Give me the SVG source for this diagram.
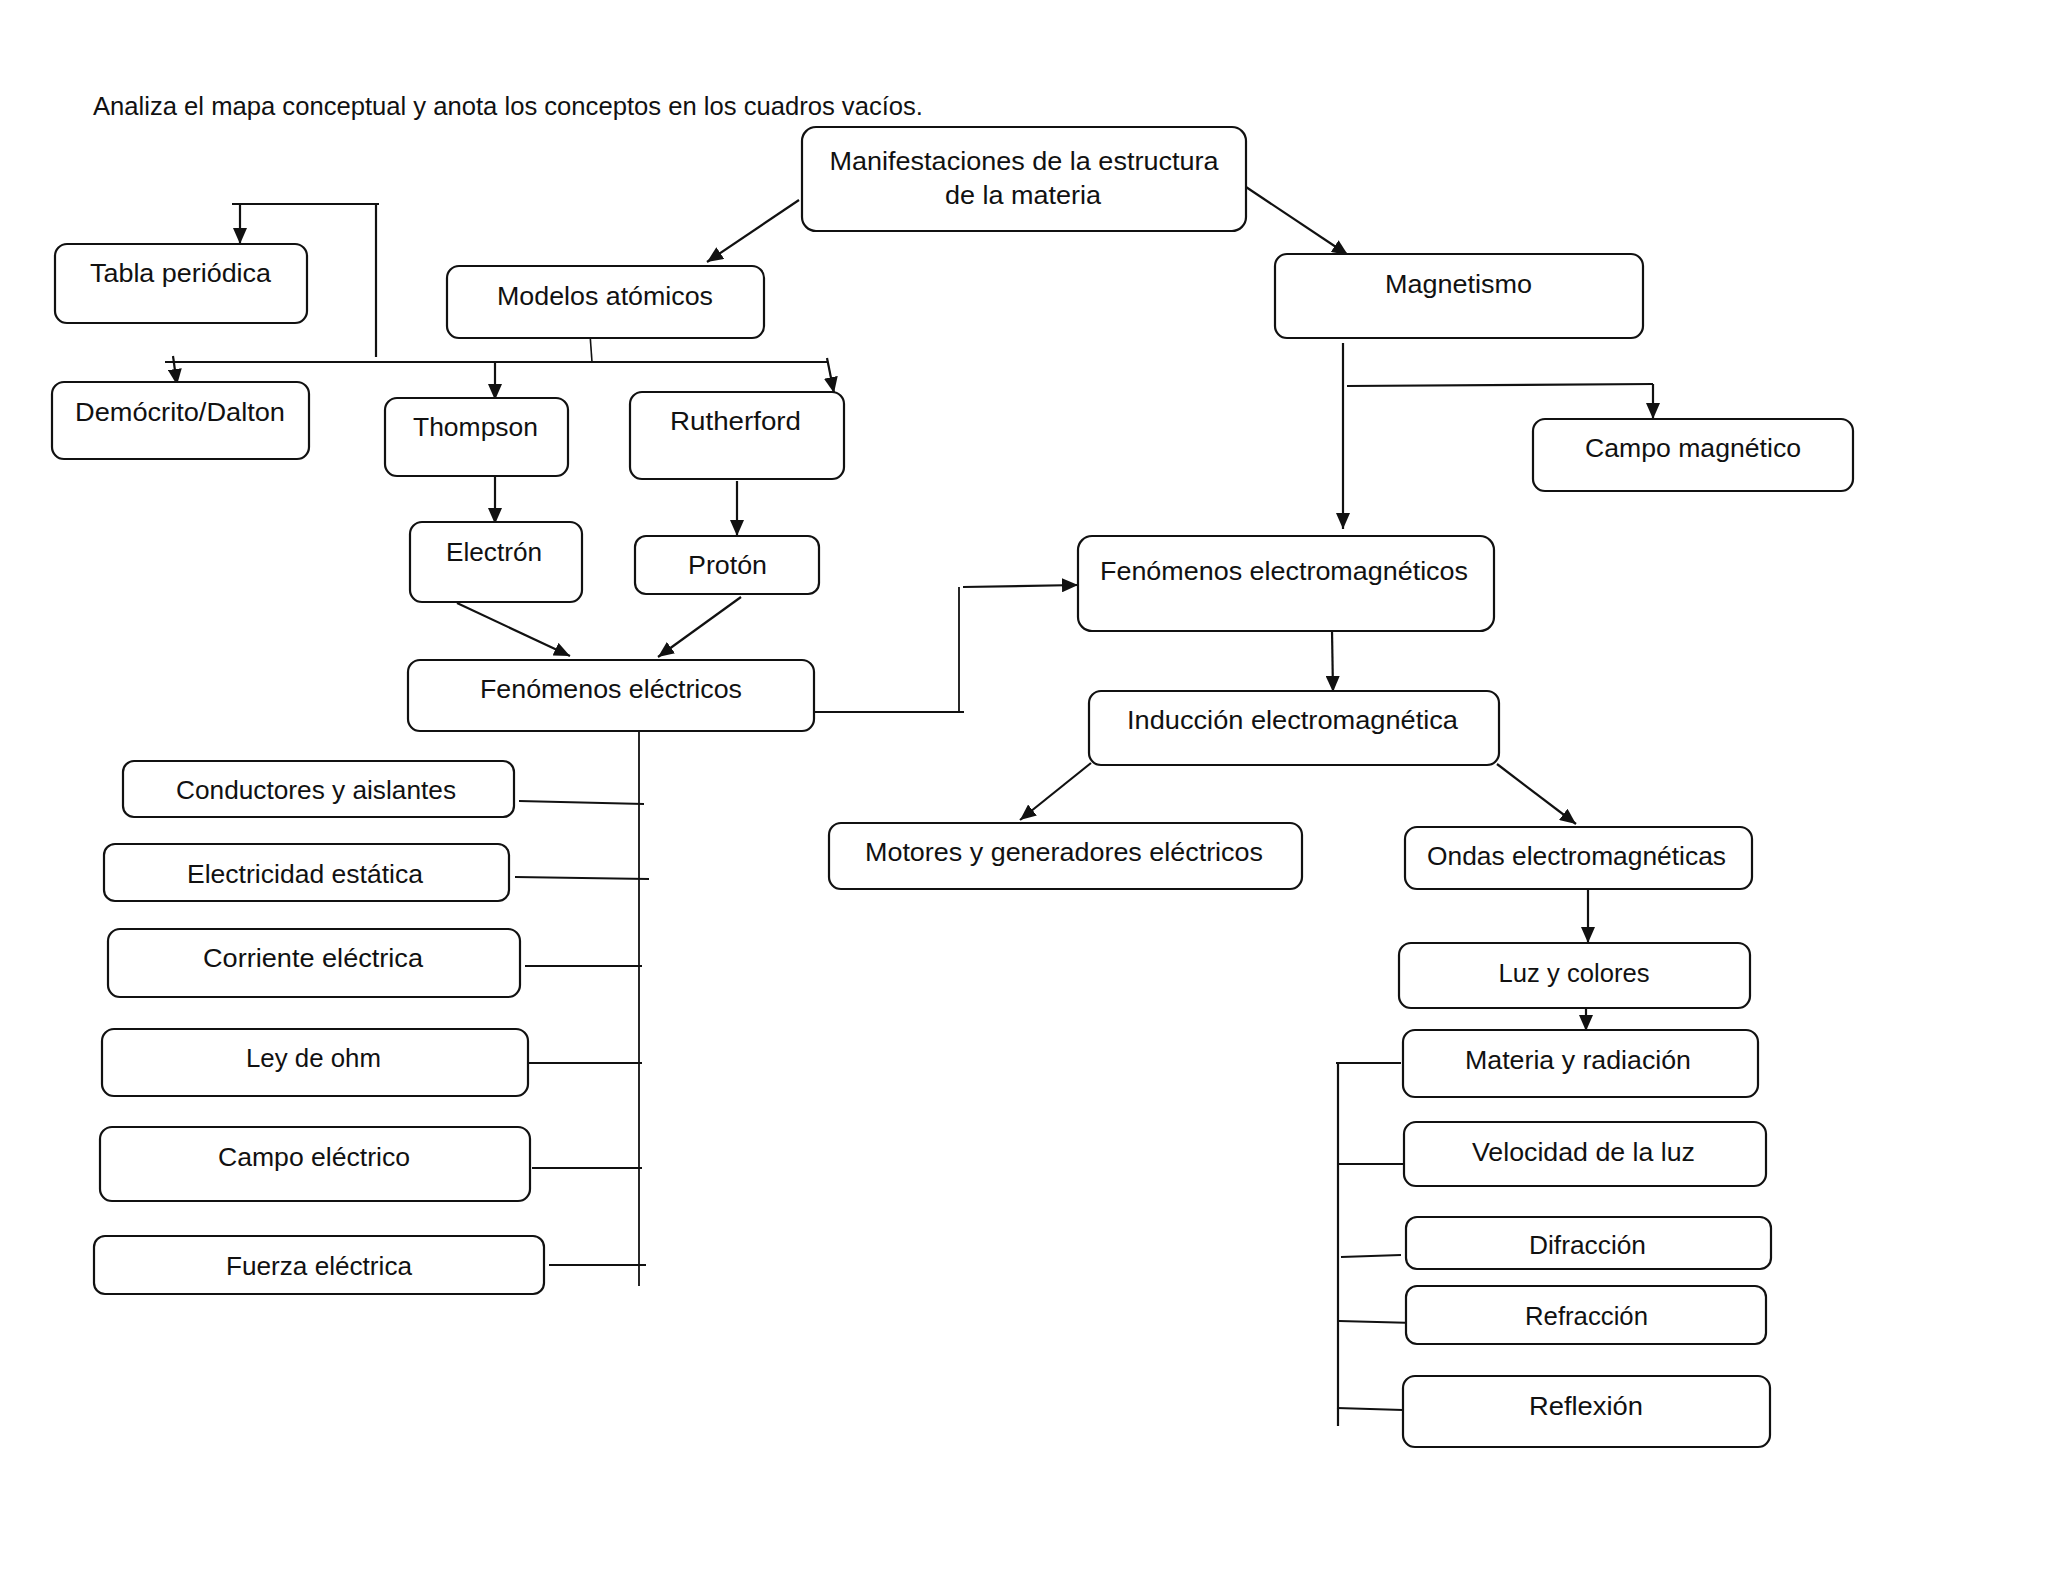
<svg xmlns="http://www.w3.org/2000/svg" width="2048" height="1582" viewBox="0 0 2048 1582">
<style>
.box{fill:#fff;stroke:#111;stroke-width:2.2}
.t{font-family:"Liberation Sans",Arial,sans-serif;font-size:26px;fill:#111;text-anchor:middle}
.title{font-family:"Liberation Sans",Arial,sans-serif;font-size:26px;fill:#111}
.c{fill:none;stroke:#111;stroke-width:2.2}
.a{fill:none;stroke:#111;stroke-width:2.2;marker-end:url(#ah)}
</style>
<defs>
<marker id="ah" viewBox="0 0 16 14" refX="16" refY="7" markerWidth="16" markerHeight="14" markerUnits="userSpaceOnUse" orient="auto">
<path d="M0,0 L16,7 L0,14 z" fill="#111"/>
</marker>
</defs>
<rect width="2048" height="1582" fill="#fff"/>
<text class="title" x="93" y="115" textLength="830" lengthAdjust="spacingAndGlyphs">Analiza el mapa conceptual y anota los conceptos en los cuadros vacíos.</text>

<g id="connectors">
<path class="a" d="M799,200 L707,262"/>
<path class="a" d="M1246,187 L1348,255"/>
<path class="c" d="M232,204 H379"/>
<path class="a" d="M240,204 V244"/>
<path class="c" d="M376,204 V357"/>
<path class="c" d="M165,362 H827"/>
<path class="c" d="M590,334 L592,362" style="stroke-width:1.6"/>
<path class="a" d="M173,356 L177,385"/>
<path class="a" d="M495,362 V400"/>
<path class="a" d="M827,358 L834,393"/>
<path class="a" d="M495,476 V524"/>
<path class="a" d="M737,481 V536"/>
<path class="a" d="M457,603 L570,656"/>
<path class="a" d="M741,597 L658,657"/>
<path class="c" d="M809,712 H964" style="stroke-width:1.8"/>
<path class="c" d="M959,712 V587" style="stroke-width:1.8"/>
<path class="a" d="M963,587 L1078,585"/>
<path class="c" d="M639,730 V1286" style="stroke-width:1.8"/>
<path class="c" d="M519,801 L644,804" style="stroke-width:1.8"/>
<path class="c" d="M515,877 L649,879" style="stroke-width:1.8"/>
<path class="c" d="M525,966 H642" style="stroke-width:1.8"/>
<path class="c" d="M529,1063 H642" style="stroke-width:1.8"/>
<path class="c" d="M532,1168 H642" style="stroke-width:1.8"/>
<path class="c" d="M549,1265 H646" style="stroke-width:1.8"/>
<path class="a" d="M1343,343 V529"/>
<path class="c" d="M1347,386 L1653,384"/>
<path class="a" d="M1653,384 V419"/>
<path class="a" d="M1332,630 L1333,692"/>
<path class="a" d="M1091,763 L1020,820"/>
<path class="a" d="M1497,764 L1576,824"/>
<path class="a" d="M1588,886 V943"/>
<path class="a" d="M1586,1008 V1031"/>
<path class="c" d="M1338,1062 V1426"/>
<path class="c" d="M1336,1063 H1401"/>
<path class="c" d="M1339,1164 H1407"/>
<path class="c" d="M1341,1257 L1401,1255"/>
<path class="c" d="M1339,1321 L1415,1323"/>
<path class="c" d="M1337,1408 L1403,1410"/>
</g>

<g id="manifestaciones"><rect class="box" x="802" y="127" width="444" height="104" rx="14"/>
<text class="t" x="1024" y="170" textLength="389" lengthAdjust="spacingAndGlyphs">Manifestaciones de la estructura</text>
<text class="t" x="1023" y="204" textLength="156" lengthAdjust="spacingAndGlyphs">de la materia</text></g>

<g id="modelos"><rect class="box" x="447" y="266" width="317" height="72" rx="12"/>
<text class="t" x="605" y="305" textLength="216" lengthAdjust="spacingAndGlyphs">Modelos atómicos</text></g>

<g id="tabla"><rect class="box" x="55" y="244" width="252" height="79" rx="12"/>
<text class="t" x="180.5" y="282" textLength="181" lengthAdjust="spacingAndGlyphs">Tabla periódica</text></g>

<g id="democrito"><rect class="box" x="52" y="382" width="257" height="77" rx="12"/>
<text class="t" x="180" y="421" textLength="210" lengthAdjust="spacingAndGlyphs">Demócrito/Dalton</text></g>

<g id="thompson"><rect class="box" x="385" y="398" width="183" height="78" rx="12"/>
<text class="t" x="475.5" y="436" textLength="125" lengthAdjust="spacingAndGlyphs">Thompson</text></g>

<g id="rutherford"><rect class="box" x="630" y="392" width="214" height="87" rx="12"/>
<text class="t" x="735.5" y="430" textLength="131" lengthAdjust="spacingAndGlyphs">Rutherford</text></g>

<g id="electron"><rect class="box" x="410" y="522" width="172" height="80" rx="12"/>
<text class="t" x="494" y="561" textLength="96" lengthAdjust="spacingAndGlyphs">Electrón</text></g>

<g id="proton"><rect class="box" x="635" y="536" width="184" height="58" rx="11"/>
<text class="t" x="727.5" y="574" textLength="79" lengthAdjust="spacingAndGlyphs">Protón</text></g>

<g id="fen-electricos"><rect class="box" x="408" y="660" width="406" height="71" rx="12"/>
<text class="t" x="611" y="698" textLength="262" lengthAdjust="spacingAndGlyphs">Fenómenos eléctricos</text></g>

<g id="magnetismo"><rect class="box" x="1275" y="254" width="368" height="84" rx="12"/>
<text class="t" x="1458.5" y="293" textLength="147" lengthAdjust="spacingAndGlyphs">Magnetismo</text></g>

<g id="campo-magnetico"><rect class="box" x="1533" y="419" width="320" height="72" rx="12"/>
<text class="t" x="1693" y="457" textLength="216" lengthAdjust="spacingAndGlyphs">Campo magnético</text></g>

<g id="fen-electromagneticos"><rect class="box" x="1078" y="536" width="416" height="95" rx="14"/>
<text class="t" x="1284" y="580" textLength="368" lengthAdjust="spacingAndGlyphs">Fenómenos electromagnéticos</text></g>

<g id="induccion"><rect class="box" x="1089" y="691" width="410" height="74" rx="12"/>
<text class="t" x="1292.5" y="729" textLength="331" lengthAdjust="spacingAndGlyphs">Inducción electromagnética</text></g>

<g id="motores"><rect class="box" x="829" y="823" width="473" height="66" rx="12"/>
<text class="t" x="1064" y="861" textLength="398" lengthAdjust="spacingAndGlyphs">Motores y generadores eléctricos</text></g>

<g id="ondas"><rect class="box" x="1405" y="827" width="347" height="62" rx="12"/>
<text class="t" x="1576.5" y="865" textLength="299" lengthAdjust="spacingAndGlyphs">Ondas electromagnéticas</text></g>

<g id="luz"><rect class="box" x="1399" y="943" width="351" height="65" rx="12"/>
<text class="t" x="1574" y="982" textLength="151" lengthAdjust="spacingAndGlyphs">Luz y colores</text></g>

<g id="materia"><rect class="box" x="1403" y="1030" width="355" height="67" rx="12"/>
<text class="t" x="1578" y="1069" textLength="226" lengthAdjust="spacingAndGlyphs">Materia y radiación</text></g>

<g id="velocidad"><rect class="box" x="1404" y="1122" width="362" height="64" rx="12"/>
<text class="t" x="1583.5" y="1161" textLength="223" lengthAdjust="spacingAndGlyphs">Velocidad de la luz</text></g>

<g id="difraccion"><rect class="box" x="1406" y="1217" width="365" height="52" rx="11"/>
<text class="t" x="1587.5" y="1254" textLength="117" lengthAdjust="spacingAndGlyphs">Difracción</text></g>

<g id="refraccion"><rect class="box" x="1406" y="1286" width="360" height="58" rx="11"/>
<text class="t" x="1586.5" y="1325" textLength="123" lengthAdjust="spacingAndGlyphs">Refracción</text></g>

<g id="reflexion"><rect class="box" x="1403" y="1376" width="367" height="71" rx="12"/>
<text class="t" x="1586" y="1415" textLength="114" lengthAdjust="spacingAndGlyphs">Reflexión</text></g>

<g id="conductores"><rect class="box" x="123" y="761" width="391" height="56" rx="11"/>
<text class="t" x="316" y="799" textLength="280" lengthAdjust="spacingAndGlyphs">Conductores y aislantes</text></g>

<g id="electricidad"><rect class="box" x="104" y="844" width="405" height="57" rx="11"/>
<text class="t" x="305" y="883" textLength="236" lengthAdjust="spacingAndGlyphs">Electricidad estática</text></g>

<g id="corriente"><rect class="box" x="108" y="929" width="412" height="68" rx="12"/>
<text class="t" x="313" y="967" textLength="220" lengthAdjust="spacingAndGlyphs">Corriente eléctrica</text></g>

<g id="ley-ohm"><rect class="box" x="102" y="1029" width="426" height="67" rx="12"/>
<text class="t" x="313.5" y="1067" textLength="135" lengthAdjust="spacingAndGlyphs">Ley de ohm</text></g>

<g id="campo-electrico"><rect class="box" x="100" y="1127" width="430" height="74" rx="12"/>
<text class="t" x="314" y="1166" textLength="192" lengthAdjust="spacingAndGlyphs">Campo eléctrico</text></g>

<g id="fuerza"><rect class="box" x="94" y="1236" width="450" height="58" rx="11"/>
<text class="t" x="319" y="1275" textLength="186" lengthAdjust="spacingAndGlyphs">Fuerza eléctrica</text></g>
</svg>
